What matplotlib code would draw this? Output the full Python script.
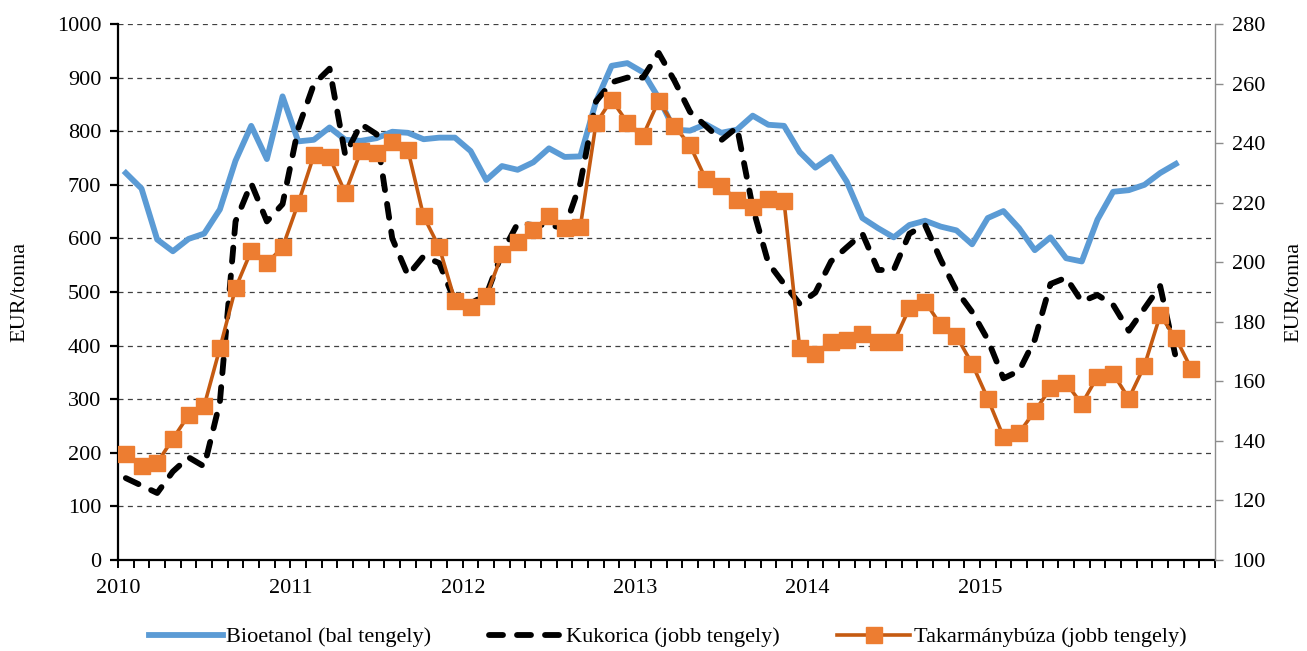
import matplotlib
matplotlib.use("Agg")
import matplotlib.pyplot as plt
import numpy as np

plt.rcParams['font.family'] = ['Liberation Serif', 'DejaVu Serif']
plt.rcParams['font.size'] = 16

# monthly series, one category per value
bioetanol = [722, 693, 598, 576, 599, 609, 654, 745, 810, 748,
             865, 781, 784, 807, 784, 782, 787, 799, 797, 785,
             788, 788, 763, 709, 735, 728, 742, 768, 752, 753,
             855, 922, 927, 910, 862, 803, 801, 813, 797, 803,
             829, 812, 810, 761, 732, 752, 706, 638, 619, 602,
             625, 633, 622, 615, 589, 638, 651, 619, 578, 602,
             563, 557, 635, 687, 690, 700, 722, 739]
kukorica = [127.5, 125, 122.5, 129.7, 134.5, 131.4, 153, 213.7, 226.5, 213.7,
            219.5, 245, 259.8, 265, 236, 246.4, 243, 208, 195.6, 202,
            199.7, 186.8, 186.2, 189, 203, 213, 212.5, 212.5, 211.4, 226.5,
            254, 260.4, 262, 262, 270.3, 261, 250.5, 245.8, 241, 245.3,
            218.4, 199.7, 192.7, 186, 189.8, 200.3, 205, 209.6, 197.4, 197.4,
            209.6, 212.5, 200.8, 190.5, 183.3, 174, 161, 163.5, 174, 192.7,
            194.8, 186.8, 189, 185.7, 177, 184.5, 192, 168]
takarmanybuza = [135.7, 131.6, 132.6, 140.7, 148.6, 151.8, 171.1, 191.3, 203.8, 199.7,
                 205, 219.8, 235.9, 235.3, 223.3, 237.3, 236.7, 240.3, 237.7, 215.4,
                 205, 187.1, 184.8, 188.6, 202.6, 206.7, 210.8, 215.4, 211.6, 211.9,
                 246.6, 254.6, 246.9, 242.5, 254.2, 245.8, 239.2, 228, 225.6, 220.9,
                 218.6, 221.3, 220.5, 171.1, 169.3, 173.1, 174, 176, 173.1, 173.1,
                 184.6, 186.8, 178.9, 175.2, 165.9, 154.2, 141.4, 142.7, 150, 157.6,
                 159.4, 152.4, 161.6, 162.6, 154.2, 165.3, 182.2, 174.5, 164.1]
n_categories = 70
year_labels = ['2010', '2011', '2012', '2013', '2014', '2015']
year_positions = [0, 11, 22, 33, 44, 55]

fig = plt.figure(figsize=(13.07, 6.51), dpi=100)
ax = fig.add_axes([118 / 1307, 1 - 560 / 651, (1215 - 118) / 1307, (560 - 24) / 651])
ax2 = ax.twinx()

x_bio = np.arange(len(bioetanol)) + 0.5
x_kuk = np.arange(len(kukorica)) + 0.5
x_tak = np.arange(len(takarmanybuza)) + 0.5

l1, = ax.plot(x_bio, bioetanol, color='#5B9BD5', lw=4.2, solid_joinstyle='round',
              label='Bioetanol (bal tengely)')
l2, = ax2.plot(x_kuk, kukorica, color='black', lw=4.2, linestyle=(0, (2.4, 2.4)),
               dash_capstyle='round', label='Kukorica (jobb tengely)')
l3, = ax2.plot(x_tak, takarmanybuza, color='#C55A11', lw=2.6, marker='s', markersize=11.5,
               markerfacecolor='#ED7D31', markeredgecolor='#ED7D31',
               label='Takarmánybúza (jobb tengely)')

ax.set_xlim(0, n_categories)
ax.set_ylim(0, 1000)
ax2.set_ylim(100, 280)
ax.set_yticks(np.arange(0, 1001, 100))
ax2.set_yticks(np.arange(100, 281, 20))

ticks = list(range(n_categories + 1))
labels = ['' for _ in ticks]
for p, lab in zip(year_positions, year_labels):
    labels[p] = lab
ax.set_xticks(ticks)
ax.set_xticklabels(labels)

ax.grid(axis='y', color='#404040', linestyle=(0, (4, 3.5)), lw=0.9)
ax.spines['top'].set_visible(False)
ax2.spines['top'].set_visible(False)
ax2.spines['left'].set_visible(False)
ax2.spines['bottom'].set_visible(False)
ax.spines['right'].set_visible(False)
ax.spines['left'].set_linewidth(1.6)
ax.spines['bottom'].set_linewidth(1.6)
ax2.spines['right'].set_color('#8C8C8C')
ax2.spines['right'].set_linewidth(1.0)

ax.tick_params(axis='y', length=6, width=1.6, pad=6)
ax.tick_params(axis='x', length=6, width=1.4, pad=8)
ax2.tick_params(axis='y', length=6, width=1.0, color='#8C8C8C', pad=6)

ax.set_ylabel('EUR/tonna', labelpad=20)
ax2.set_ylabel('EUR/tonna', labelpad=14)

fig.legend([l1, l2, l3], [l1.get_label(), l2.get_label(), l3.get_label()],
           loc='center', bbox_to_anchor=(0.511, 1 - 637 / 651), ncol=3, frameon=False,
           handlelength=3.3, handletextpad=0.15, columnspacing=2.6)

fig.savefig('out.png', dpi=100)
